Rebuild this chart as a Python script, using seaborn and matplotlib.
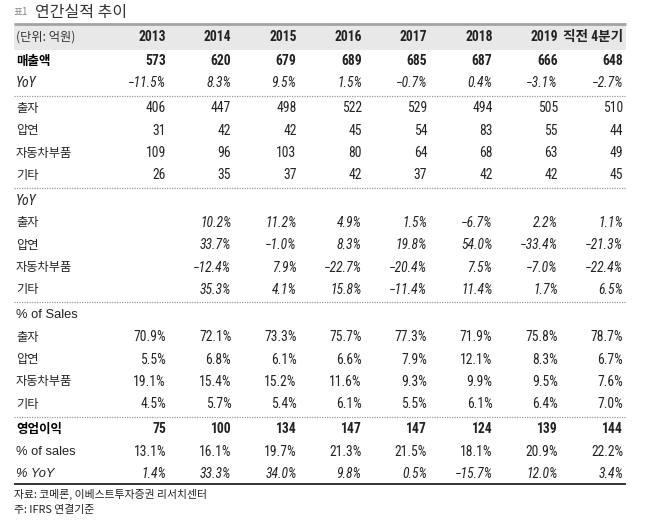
import matplotlib
matplotlib.use("Agg")
import matplotlib.pyplot as plt
import seaborn as sns
from matplotlib.patches import Rectangle

# data (억원, %)
columns = ['2013', '2014', '2015', '2016', '2017', '2018', '2019', '직전 4분기']
segments = ['출자', '압연', '자동차부품', '기타']

sales = [573, 620, 679, 689, 685, 687, 666, 648]
sales_yoy = [-11.5, 8.3, 9.5, 1.5, -0.7, 0.4, -3.1, -2.7]

seg_sales = [
    [406, 447, 498, 522, 529, 494, 505, 510],
    [31, 42, 42, 45, 54, 83, 55, 44],
    [109, 96, 103, 80, 64, 68, 63, 49],
    [26, 35, 37, 42, 37, 42, 42, 45],
]
seg_yoy = [
    [None, 10.2, 11.2, 4.9, 1.5, -6.7, 2.2, 1.1],
    [None, 33.7, -1.0, 8.3, 19.8, 54.0, -33.4, -21.3],
    [None, -12.4, 7.9, -22.7, -20.4, 7.5, -7.0, -22.4],
    [None, 35.3, 4.1, 15.8, -11.4, 11.4, 1.7, 6.5],
]
seg_share = [
    [70.9, 72.1, 73.3, 75.7, 77.3, 71.9, 75.8, 78.7],
    [5.5, 6.8, 6.1, 6.6, 7.9, 12.1, 8.3, 6.7],
    [19.1, 15.4, 15.2, 11.6, 9.3, 9.9, 9.5, 7.6],
    [4.5, 5.7, 5.4, 6.1, 5.5, 6.1, 6.4, 7.0],
]

op_income = [75, 100, 134, 147, 147, 124, 139, 144]
op_margin = [13.1, 16.1, 19.7, 21.3, 21.5, 18.1, 20.9, 22.2]
op_yoy = [1.4, 33.3, 34.0, 9.8, 0.5, -15.7, 12.0, 3.4]

title = '연간실적 추이'
source = '자료: 코메론, 이베스트투자증권 리서치센터'
note = '주: IFRS 연결기준'

sns.set_theme(style='white')
plt.rcParams['font.family'] = ['Liberation Sans', 'Noto Sans CJK KR', 'DejaVu Sans']

num_family = ['Roboto Condensed', 'Noto Sans CJK KR', 'DejaVu Sans']
kr_family = ['Noto Sans CJK KR', 'DejaVu Sans']
lat_family = ['Liberation Sans', 'Noto Sans CJK KR', 'DejaVu Sans']
num_size = 9.8

TXT = '#222222'
W, H = 648, 520
fig = plt.figure(figsize=(W / 100, H / 100), dpi=100)
ax = fig.add_axes([0, 0, 1, 1])
ax.set_xlim(0, W)
ax.set_ylim(H, 0)
ax.axis('off')

left, right = 14, 626
label_x = 16
col_right = [166 + i * 65.3 for i in range(len(columns))]


def fmt_pct(v):
    if v is None:
        return ''
    return f'{v:.1f}%'.replace('-', '\u2212')


# title
ax.text(14, 12, '표1', fontsize=7, color='#888888', family=kr_family, va='center')
ax.text(35, 12, title, fontsize=11.5, color='#333333', family=kr_family, va='center')

# header band
hdr_top, hdr_bot = 24, 49.5
ax.add_patch(Rectangle((left, hdr_top), right - left, hdr_bot - hdr_top, facecolor='#e8e8e8', edgecolor='none'))
ax.plot([left, right], [hdr_top, hdr_top], color='#a3a3a3', lw=2, solid_capstyle='butt')
hdr_y = (hdr_top + hdr_bot) / 2
ax.text(label_x, hdr_y, '(단위: 억원)', fontsize=8.8, color='#333333', family=kr_family, va='center')
for c, xr in zip(columns, col_right):
    ax.text(xr, hdr_y, c, fontsize=num_size, fontweight='bold', color=TXT, family=num_family,
            ha='right', va='center')

# rows: (label, values, kind)
blocks = [
    [('매출액', sales, 'total'), ('YoY', sales_yoy, 'yoy')],
    [(n, v, 'int') for n, v in zip(segments, seg_sales)],
    [('YoY', None, 'yoy')] + [(n, v, 'yoy') for n, v in zip(segments, seg_yoy)],
    [('% of Sales', None, 'pct')] + [(n, v, 'pct') for n, v in zip(segments, seg_share)],
    [('영업이익', op_income, 'total'), ('% of sales', op_margin, 'pct'), ('% YoY', op_yoy, 'yoy')],
]

y0, pitch, gap = 61, 22.3, 2.9
row_i = 0
block_last = []
block_first = []
for b, block in enumerate(blocks):
    for j, (label, vals, kind) in enumerate(block):
        y = y0 + row_i * pitch + b * gap
        if j == 0:
            block_first.append(y)
        is_kr = any('\uac00' <= ch <= '\ud7a3' for ch in label)
        if kind == 'total':
            ax.text(label_x, y, label, fontsize=9, fontweight='bold', color='black',
                    family=kr_family, va='center')
        elif is_kr:
            ax.text(label_x, y, label, fontsize=8.8, color=TXT, family=kr_family,
                    fontstyle='italic' if kind == 'yoy' else 'normal', va='center')
        elif label == 'YoY':
            ax.text(label_x, y, label, fontsize=num_size, fontstyle='italic', color=TXT,
                    family=num_family, va='center')
        else:
            ax.text(label_x, y, label, fontsize=9.3, color=TXT, family=lat_family,
                    fontstyle='italic' if kind == 'yoy' else 'normal', va='center')
        if vals is not None:
            for v, xr in zip(vals, col_right):
                if kind == 'total':
                    s, kw = str(v), dict(fontweight='bold')
                elif kind == 'int':
                    s, kw = str(v), {}
                elif kind == 'yoy':
                    s, kw = fmt_pct(v), dict(fontstyle='italic')
                else:
                    s, kw = fmt_pct(v), {}
                ax.text(xr, y, s, fontsize=num_size, color=TXT, family=num_family,
                        ha='right', va='center', **kw)
        row_i += 1
    block_last.append(y)

# dotted separators between blocks
for b in range(len(blocks) - 1):
    ys = (block_last[b] + block_first[b + 1]) / 2
    ax.plot([left, right], [ys, ys], color='#9a9a9a', lw=0.9, linestyle=(0, (1, 1)))

# closing rule
y_end = block_last[-1] + 9.5
ax.plot([left, right], [y_end, y_end], color='#111111', lw=1.2, solid_capstyle='butt')

ax.text(14, y_end + 10.5, source, fontsize=7.8, color='#222222', family=kr_family, va='center')
ax.text(14, y_end + 26, note, fontsize=7.8, color='#222222', family=kr_family, va='center')

fig.savefig('out.png', dpi=100)
